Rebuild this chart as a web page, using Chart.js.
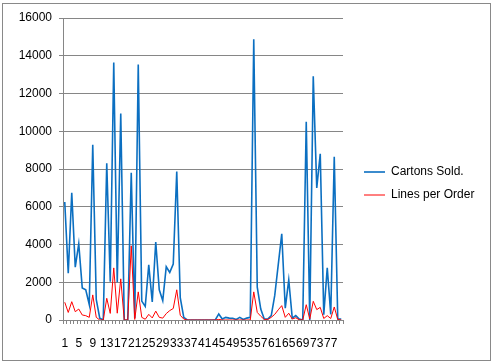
<!DOCTYPE html>
<html>
<head>
<meta charset="utf-8">
<script src="https://cdn.jsdelivr.net/npm/chart.js@4/dist/chart.umd.min.js"></script>
<style>
  html, body { margin: 0; padding: 0; background: #fff; }
  #wrap { position: absolute; left: 0; top: 0; width: 493px; height: 363px; }
  #frame { position: absolute; left: 2px; top: 3px; width: 489px; height: 358px; box-sizing: border-box; border: 1px solid #898989; pointer-events: none; }
  canvas { position: absolute; left: 0; top: 0; }
</style>
</head>
<body>
<div id="wrap">
  <canvas id="c" width="493" height="363"></canvas>
  <div id="frame"></div>
</div>
<script>
// Categories 1..80
const categories = [];
for (let i = 1; i <= 80; i++) categories.push(String(i));

const seriesNames = ["Cartons Sold.", "Lines per Order"];

const cartonsSold = [
  6250, 2480, 6740, 2800, 4040, 1700, 1600, 820, 9290, 1090,
  100, 0, 8300, 2030, 13640, 2000, 10940, 0, 0, 7800,
  100, 13540, 1000, 720, 2920, 960, 4130, 1600, 1030, 2820,
  2520, 2960, 7860, 1180, 140, 0, 0, 0, 0, 0,
  0, 0, 0, 0, 320, 50, 140, 100, 90, 30,
  140, 30, 100, 140, 14880, 1740, 580, 50, 50, 230,
  1300, 2930, 4570, 630, 2120, 100, 230, 50, 0, 10500,
  0, 12910, 7000, 8810, 280, 2760, 300, 8650, 50, 50
];

const linesPerOrder = [
  940, 400, 970, 440, 580, 265, 230, 140, 1330, 140,
  0, 0, 1150, 350, 2760, 360, 2180, 0, 0, 3930,
  30, 1490, 140, 40, 300, 110, 470, 140, 100, 340,
  500, 610, 1600, 250, 50, 0, 0, 0, 0, 0,
  0, 0, 0, 0, 30, 0, 0, 0, 0, 0,
  0, 0, 0, 0, 1490, 400, 200, 30, 30, 140,
  300, 540, 760, 140, 360, 50, 120, 10, 0, 810,
  50, 990, 550, 670, 80, 230, 80, 690, 30, 0
];

const yTicks = [0, 2000, 4000, 6000, 8000, 10000, 12000, 14000, 16000];

const FONT = "'Liberation Sans', Arial, sans-serif";
const GRID = '#868686';

new Chart(document.getElementById('c'), {
  type: 'line',
  data: {
    labels: categories,
    datasets: [
      { label: seriesNames[0], data: cartonsSold, borderColor: '#0B6FC1', backgroundColor: '#0B6FC1',
        borderWidth: 1.6, pointRadius: 0, tension: 0, order: 1 },
      { label: seriesNames[1], data: linesPerOrder, borderColor: '#FF0000', backgroundColor: '#FF0000',
        borderWidth: 1, pointRadius: 0, tension: 0, order: 0 }
    ]
  },
  options: {
    responsive: false,
    animation: false,
    events: [],
    layout: { padding: { left: 0, top: 18, right: 9, bottom: 14 } },
    plugins: {
      tooltip: { enabled: false },
      legend: {
        position: 'right',
        align: 'center',
        maxWidth: 131,
        labels: {
          usePointStyle: true,
          pointStyle: 'line',
          pointStyleWidth: 21,
          padding: 11,
          color: '#000',
          font: { family: FONT, size: 12 },
          sort: (a, b) => a.datasetIndex - b.datasetIndex
        }
      }
    },
    scales: {
      x: {
        type: 'category',
        offset: true,
        grid: { display: true, drawOnChartArea: false, drawTicks: true, tickLength: 4, color: GRID, offset: true },
        border: { display: true, color: GRID },
        ticks: {
          autoSkip: false, maxRotation: 0, minRotation: 0, padding: 12,
          color: '#000', font: { family: FONT, size: 12 },
          callback: function (v, i) { return (i % 4 === 0) ? categories[i] : ''; }
        },
        afterFit: s => { s.height = 29; }
      },
      y: {
        min: 0, max: 16000,
        afterBuildTicks: s => { s.ticks = yTicks.map(v => ({ value: v })); },
        grid: { color: GRID, tickLength: 4, drawTicks: true },
        border: { display: true, color: GRID },
        ticks: { padding: 7, color: '#000', font: { family: FONT, size: 12 }, callback: v => String(v) },
        afterFit: s => { s.width = 63; }
      },
      yr: {
        position: 'right',
        display: true,
        grid: { display: false, drawTicks: false },
        border: { display: false },
        ticks: { display: false },
        afterFit: s => { s.width = 10; }
      }
    }
  }
});
</script>
</body>
</html>
